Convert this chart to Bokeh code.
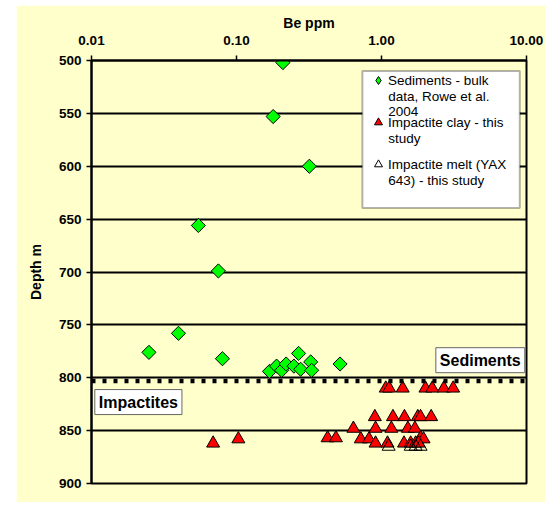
import math
from bokeh.plotting import figure
from bokeh.models import (Range1d, FixedTicker, PrintfTickFormatter, Span, Label,
                          Legend, LegendItem, BoxAnnotation, Spacer)
from bokeh.layouts import column, row
from bokeh.embed import file_html
from bokeh.resources import INLINE

# ---- data ----
sed_be = [0.209, 0.179, 0.318, 0.0546, 0.075, 0.0398, 0.0249, 0.080, 0.268, 0.518,
          0.169, 0.189, 0.205, 0.220, 0.249, 0.277, 0.325, 0.330]
sed_depth = [502, 553, 600, 656, 699, 758, 776, 782, 777, 787,
             794, 789, 793, 787, 789, 792, 785, 793]

clay_be = [1.07, 1.13, 1.40, 2.01, 2.24, 2.69, 3.12,
           0.90, 1.20, 1.44, 1.78, 1.86, 2.20,
           0.64, 0.91, 1.17, 1.52, 1.70,
           0.103, 0.425, 0.485, 0.72, 0.82, 1.86, 1.95,
           0.069, 0.91, 1.10, 1.43, 1.59, 1.72, 1.80]
clay_depth = [810, 810, 810, 810, 810, 810, 810,
              837, 837, 837, 837, 837, 837,
              848, 848, 848, 848, 848,
              858, 857, 857, 858, 858, 857, 858,
              862, 862, 862, 862, 862, 862, 862]

melt_be = [1.12, 1.59, 1.72, 1.86]
melt_depth = [865, 865, 865, 865]

boundary_depth = 803
x_ticks = [0.01, 0.1, 1, 10]
y_ticks = [500, 550, 600, 650, 700, 750, 800, 850, 900]

legend_first = ["Sediments - bulk", "Impactite clay - this", "Impactite melt (YAX"]
legend_more = [["data, Rowe et al.", "2004"], ["study"], ["643) - this study"]]

BG = "#FFFFCC"
FONT = "Liberation Sans"

p = figure(width=529, height=497, x_axis_type="log", x_axis_location="above",
           x_range=Range1d(0.01, 10), y_range=Range1d(900, 500),
           output_backend="svg", toolbar_location=None,
           background_fill_color=BG, border_fill_color=BG,
           min_border_left=75, min_border_right=19, min_border_top=55, min_border_bottom=19)

p.outline_line_color = "black"
p.outline_line_width = 2
p.xgrid.visible = False
p.ygrid.grid_line_color = "black"
p.ygrid.grid_line_width = 2

xa = p.xaxis[0]
xa.ticker = FixedTicker(ticks=x_ticks)
xa.formatter = PrintfTickFormatter(format="%.2f")
xa.axis_label = "Be ppm"
ya = p.yaxis[0]
ya.ticker = FixedTicker(ticks=y_ticks)
ya.axis_label = "Depth m"
for ax in (xa, ya):
    ax.axis_line_width = 2
    ax.axis_line_color = "black"
    ax.major_tick_line_color = "black"
    ax.major_tick_line_width = 1.5
    ax.major_tick_out = 5
    ax.major_tick_in = 0
    ax.minor_tick_line_color = None
    ax.major_label_text_font = FONT
    ax.major_label_text_font_style = "bold"
    ax.major_label_text_font_size = "13.5px"
    ax.major_label_text_color = "black"
    ax.axis_label_text_font = FONT
    ax.axis_label_text_font_style = "bold"
    ax.axis_label_text_font_size = "14px"
    ax.axis_label_text_color = "black"
xa.major_label_standoff = 11
xa.axis_label_standoff = 2
ya.major_label_standoff = 5
ya.axis_label_standoff = 12

p.add_layout(Span(location=boundary_depth, dimension="width", line_color="black",
                  line_width=4.5, line_dash="4 7"))

r_sed = p.scatter(sed_be, sed_depth, marker="square", angle=math.pi / 4, size=10,
                  fill_color="#00FF00", line_color="black", line_width=1)
r_clay = p.scatter(clay_be, clay_depth, marker="triangle", size=13,
                   fill_color="#FF0000", line_color="black", line_width=1)
r_melt = p.scatter(melt_be, melt_depth, marker="triangle", size=13,
                   fill_alpha=0, line_color="black", line_width=1)
# legend-only key (a non-drawn NaN point) so the legend shows a diamond
r_sed_key = p.scatter([float("nan")], [float("nan")], marker="diamond", size=10,
                      fill_color="#00FF00", line_color="black", line_width=1)

# legend box
p.add_layout(BoxAnnotation(left=0.738, right=8.99, top=510, bottom=639.5,
                           fill_color="white", fill_alpha=1,
                           line_color="black", line_width=2))
legend = Legend(items=[
    LegendItem(label=legend_first[0], renderers=[r_sed_key]),
    LegendItem(label=legend_first[1], renderers=[r_clay]),
    LegendItem(label=legend_first[2], renderers=[r_melt]),
], location=(277, 309), padding=0, margin=0, spacing=22,
    glyph_width=20, glyph_height=20, label_standoff=0,
    border_line_alpha=0, background_fill_alpha=0,
    label_text_font=FONT, label_text_font_size="13.5px",
    label_text_color="black")
p.add_layout(legend)

more_depths = [[533.7, 548.2], [573.7], [613.3]]
for lines, depths in zip(legend_more, more_depths):
    for t, d in zip(lines, depths):
        p.add_layout(Label(x=1.114, y=d, text=t, text_font=FONT, text_font_size="13.5px",
                           text_color="black", text_align="left", text_baseline="middle"))

p.add_layout(Label(x=2.37, y=783.4, text="Sediments", text_font=FONT,
                   text_font_style="bold", text_font_size="16px", text_color="black",
                   text_align="left", text_baseline="middle", padding=4,
                   background_fill_color="white", border_line_color="#666666",
                   border_line_width=1))
p.add_layout(Label(x=0.01054, y=823, text="Impactites", text_font=FONT,
                   text_font_style="bold", text_font_size="16px", text_color="black",
                   text_align="left", text_baseline="middle", padding=4,
                   background_fill_color="white", border_line_color="#666666",
                   border_line_width=1))

layout = column(Spacer(height=5), row(Spacer(width=16), p))
open("out.html", "w").write(file_html(layout, INLINE))
